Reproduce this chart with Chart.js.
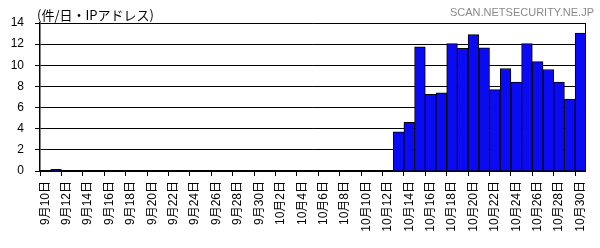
<!DOCTYPE html>
<html>
<head>
<meta charset="utf-8">
<script src="https://cdn.jsdelivr.net/npm/chart.js@4/dist/chart.umd.min.js"></script>
<style>
  html, body { margin: 0; padding: 0; background: #fff; }
  #wrap { width: 600px; height: 248px; position: relative; }
</style>
</head>
<body>
<div id="wrap"><canvas id="ipChart"></canvas></div>
<script>
const days = [
    '9月10日', '9月11日', '9月12日', '9月13日', '9月14日', '9月15日', '9月16日', '9月17日',
    '9月18日', '9月19日', '9月20日', '9月21日', '9月22日', '9月23日', '9月24日', '9月25日',
    '9月26日', '9月27日', '9月28日', '9月29日', '9月30日',
    '10月1日', '10月2日', '10月3日', '10月4日', '10月5日', '10月6日', '10月7日', '10月8日',
    '10月9日', '10月10日', '10月11日', '10月12日', '10月13日', '10月14日', '10月15日',
    '10月16日', '10月17日', '10月18日', '10月19日', '10月20日', '10月21日', '10月22日',
    '10月23日', '10月24日', '10月25日', '10月26日', '10月27日', '10月28日', '10月29日', '10月30日'
];
// 件/日・IPアドレス
const counts = [
    0, 0.15, 0, 0, 0, 0, 0, 0, 0, 0, 0, 0, 0, 0, 0, 0, 0, 0, 0, 0, 0,
    0, 0, 0, 0, 0, 0, 0, 0, 0, 0, 0, 0,
    3.7, 4.6, 11.75, 7.25, 7.4, 12.05, 11.6, 12.9, 11.65, 7.7, 9.7, 8.4,
    12.05, 10.35, 9.6, 8.4, 6.8, 13.05
];
const yTicks = [0, 2, 4, 6, 8, 10, 12, 14];

const unitLabel = '(件/日・IPアドレス)';
const sourceLabel = 'SCAN.NETSECURITY.NE.JP';

const textPlugin = {
    id: 'textPlugin',
    afterDraw(chart) {
        const c = chart.ctx;
        const area = chart.chartArea;
        c.save();
        c.fillStyle = '#000';
        c.font = '13px "Noto Sans CJK JP"';
        c.textAlign = 'left';
        c.textBaseline = 'alphabetic';
        c.fillText(unitLabel, area.left - 3, area.top - 3);
        c.fillStyle = '#8a8a8a';
        c.font = '11px "Liberation Sans"';
        c.textAlign = 'right';
        c.fillText(sourceLabel, 594, 16);
        c.restore();
    }
};

const ctx = document.getElementById('ipChart').getContext('2d');
new Chart(ctx, {
    type: 'bar',
    data: {
        labels: days,
        datasets: [{
            data: counts,
            backgroundColor: '#0a0af5',
            borderColor: '#000',
            borderWidth: 1,
            barPercentage: 1,
            categoryPercentage: 1
        }]
    },
    options: {
        responsive: true,
        maintainAspectRatio: false,
        animation: false,
        layout: { padding: { top: 23, right: 0, left: 0, bottom: 0 } },
        plugins: {
            legend: { display: false },
            tooltip: { enabled: false }
        },
        scales: {
            x: {
                offset: true,
                afterFit(scale) { scale.height = 77; },
                grid: {
                    offset: true,
                    drawOnChartArea: false,
                    tickLength: 5,
                    color: (c) => (c.index % 2 === 0 ? '#000' : 'rgba(0,0,0,0)')
                },
                border: { color: '#000', width: 1.5 },
                ticks: {
                    autoSkip: false,
                    maxRotation: 90,
                    minRotation: 90,
                    padding: 5,
                    color: '#000',
                    font: { family: '"Liberation Sans", "Noto Sans CJK JP"', size: 12 },
                    callback: function(val, i) { return i % 2 === 0 ? days[i] : ''; }
                }
            },
            y: {
                min: 0,
                max: 14,
                afterFit(scale) { scale.width = 40; },
                afterBuildTicks(scale) { scale.ticks = yTicks.map(v => ({ value: v })); },
                grid: { color: '#000', lineWidth: 1, tickLength: 5 },
                border: { color: '#000', width: 1.5 },
                ticks: {
                    padding: 11,
                    color: '#000',
                    font: { family: '"Liberation Sans"', size: 12 }
                }
            },
            y2: {
                position: 'right',
                min: 0,
                max: 14,
                afterFit(scale) { scale.width = 13; },
                grid: { display: false },
                border: { color: '#000', width: 1 },
                ticks: { display: false }
            }
        }
    },
    plugins: [textPlugin]
});
</script>
</body>
</html>
